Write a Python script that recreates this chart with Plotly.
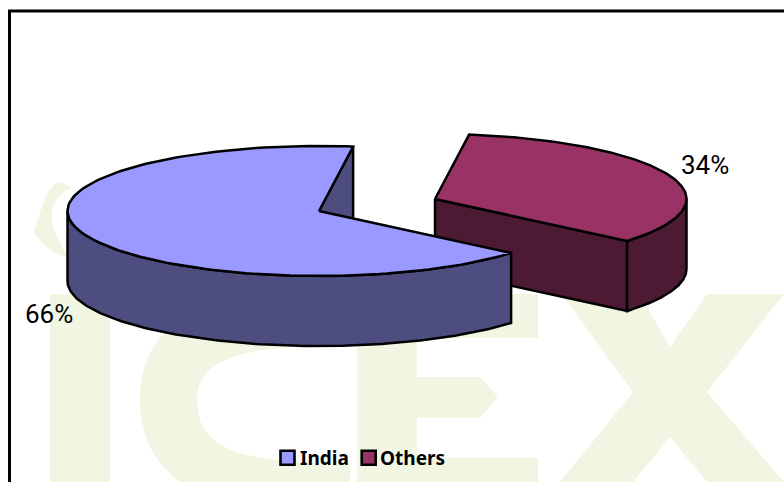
import numpy as np
import plotly.graph_objects as go

# ---- data ----
categories = ["India", "Others"]
values = [66, 34]
top_colors = ["#9999FF", "#993366"]
side_colors = ["#4D4D80", "#4D1A33"]

# ---- projection of the tilted pie onto the page ----
W, H = 784, 482
RX, RY, DEPTH = 251.5, 65, 70
FIRST_ANGLE = 82.2            # where the India slice starts (goes counter-clockwise)
CENTERS = {"India": (319, 211), "Others": (435, 199)}
INK = dict(color="black", width=2.5)


def arc(center, a0, a1, drop=0, n=140):
    t = np.radians(np.linspace(a0, a1, n))
    return center[0] + RX * np.cos(t), center[1] - RY * np.sin(t) + drop


def poly(xs, ys, fill):
    return go.Scatter(x=list(xs), y=list(ys), mode="lines", fill="toself", fillcolor=fill,
                      line=INK, hoverinfo="skip", showlegend=False)


total = sum(values)
spans = {}
a = FIRST_ANGLE
for c, v in zip(categories, values):
    spans[c] = (a, a + 360 * v / total)
    a = spans[c][1]

fig = go.Figure()

# Others slice (further back): its visible cut face starts at a0, its wall runs to the rightmost point
c = CENTERS["Others"]
a0, a1 = spans["Others"]
cx, cy = arc(c, a0, a0, n=1)
fig.add_trace(poly([c[0], cx[0], cx[0], c[0], c[0]],
                   [c[1], cy[0], cy[0] + DEPTH, c[1] + DEPTH, c[1]], side_colors[1]))
wx, wy = arc(c, a0, 360)
bx, by = arc(c, 360, a0, DEPTH)
fig.add_trace(poly(np.r_[wx, bx, wx[0]], np.r_[wy, by, wy[0]], side_colors[1]))
tx, ty = arc(c, a0, a1)
fig.add_trace(poly(np.r_[c[0], tx, c[0]], np.r_[c[1], ty, c[1]], top_colors[1]))

# India slice (front)
c = CENTERS["India"]
a0, a1 = spans["India"]
sx, sy = arc(c, a0, a0, n=1)
fig.add_trace(poly([c[0], sx[0], sx[0], c[0], c[0]],
                   [c[1], sy[0], sy[0] + DEPTH, c[1] + DEPTH, c[1]], side_colors[0]))
wx, wy = arc(c, 180, a1)
bx, by = arc(c, a1, 180, DEPTH)
fig.add_trace(poly(np.r_[wx, bx, wx[0]], np.r_[wy, by, wy[0]], side_colors[0]))
tx, ty = arc(c, a0, a1)
fig.add_trace(poly(np.r_[c[0], tx, c[0]], np.r_[c[1], ty, c[1]], top_colors[0]))

# legend row: swatches and names, placed exactly where the original has them
KEY_X = [287.5, 368.7]
KEY_Y = 457.7
NAME_X = [300, 380]
NAME_Y = 460
fig.add_trace(go.Scatter(x=KEY_X, y=[KEY_Y] * len(KEY_X), mode="markers", hoverinfo="skip", showlegend=False,
                         marker=dict(symbol="square", size=14, color=top_colors,
                                     line=dict(color="black", width=2.6))))
fig.add_trace(go.Scatter(x=NAME_X, y=[NAME_Y] * len(NAME_X), mode="text", text=categories,
                         textposition="middle right", hoverinfo="skip", showlegend=False,
                         textfont=dict(family="Noto Sans", size=19, color="black", weight="bold")))

# watermark, behind everything
WM = "#F0F6E2"
wm_paths = [
    "M 50 294 L 110 294 L 110 482 L 50 482 Z",
    "M 350 283 C 210 283 140 320 140 400 C 140 480 210 520 350 520 L 350 463 C 240 463 197 450 197 400 C 197 360 240 345 350 345 Z",
    "M 357 294 L 538 294 L 538 338 L 417 338 L 417 377 L 480 377 L 498 397 L 480 418 L 417 418 L 417 458 L 538 458 L 538 482 L 357 482 Z",
    "M 562 295 L 640 295 L 670 347 L 707 294 L 784 294 L 707 392 L 784 482 L 707 482 L 670 437 L 633 482 L 560 482 L 633 392 Z",
    "M 62 182 C 50 182 45 195 34 232 C 42 245 55 256 68 257 C 58 240 50 225 52 210 C 54 200 60 192 72 188 Z",
]
shapes = [dict(type="path", path=p, fillcolor=WM, line=dict(width=0), layer="below",
               xref="x", yref="y") for p in wm_paths]
# chart frame, running off the right and bottom of the picture
shapes.append(dict(type="path", path=f"M 9.5 {H + 5} L 9.5 11 L {W + 5} 11", line=dict(color="black", width=3),
                   xref="x", yref="y"))

# percentage labels
labels = [f"{v}%" for v in values]
label_pos = [(49, 314), (705, 165)]
annotations = [dict(x=p[0], y=p[1], text=t, showarrow=False, xref="x", yref="y",
                    font=dict(family="Roboto", size=26, color="black"))
               for t, p in zip(labels, label_pos)]

fig.update_layout(
    width=W, height=H, margin=dict(l=0, r=0, t=0, b=0),
    paper_bgcolor="white", plot_bgcolor="white", showlegend=False,
    xaxis=dict(range=[0, W], visible=False, fixedrange=True),
    yaxis=dict(range=[H, 0], visible=False, fixedrange=True),
    shapes=shapes, annotations=annotations,
)
fig.write_html("out.html", config=dict(displayModeBar=False),
               post_script="document.body.style.margin='0';document.body.style.overflow='hidden';")
